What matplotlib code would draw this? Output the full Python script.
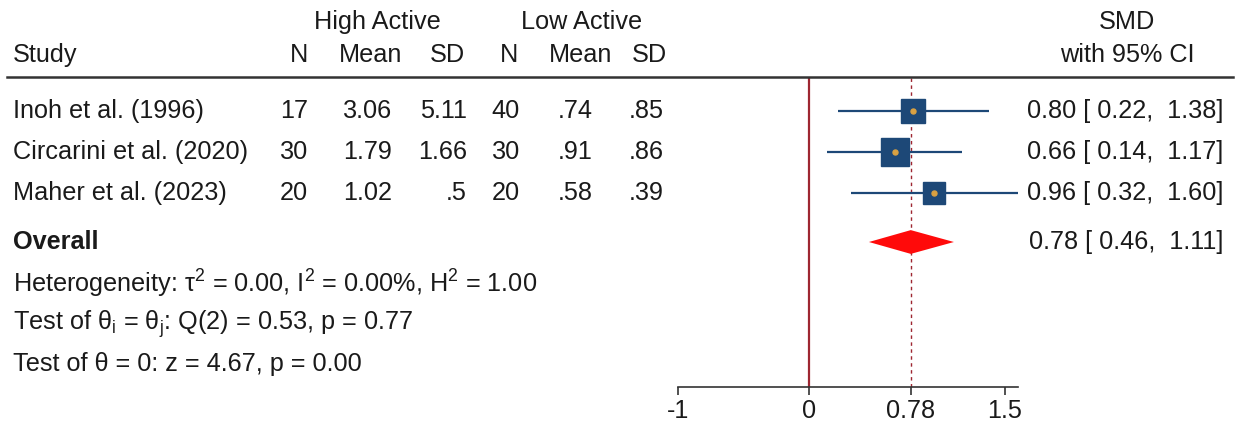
import matplotlib
matplotlib.use("Agg")
import matplotlib.pyplot as plt
import matplotlib.transforms as mtransforms
from matplotlib.lines import Line2D
import numpy as np

plt.rcParams['font.family'] = ['Liberation Sans', 'DejaVu Sans']
plt.rcParams['mathtext.fontset'] = 'custom'
plt.rcParams['mathtext.rm'] = 'Liberation Sans'
plt.rcParams['mathtext.it'] = 'Liberation Sans:italic'

# ---------------- data ----------------
studies = ["Inoh et al. (1996)", "Circarini et al. (2020)", "Maher et al. (2023)"]
high_n = ["17", "30", "20"]
high_mean = ["3.06", "1.79", "1.02"]
high_sd = ["5.11", "1.66", ".5"]
low_n = ["40", "30", "20"]
low_mean = [".74", ".91", ".58"]
low_sd = [".85", ".86", ".39"]
smd = [0.80, 0.66, 0.96]
ci_low = [0.22, 0.14, 0.32]
ci_high = [1.38, 1.17, 1.60]
weights = [32.5, 41.6, 25.9]
overall_smd = 0.78
overall_low = 0.46
overall_high = 1.11
stats_lines = [
    r"Heterogeneity: τ$^\mathregular{2}$ = 0.00, I$^\mathregular{2}$ = 0.00%, H$^\mathregular{2}$ = 1.00",
    r"Test of θ$_\mathregular{i}$ = θ$_\mathregular{j}$: Q(2) = 0.53, p = 0.77",
    r"Test of θ = 0: z = 4.67, p = 0.00",
]
xticks = [-1, 0, 0.78, 1.5]
xtick_labels = ["-1", "0", "0.78", "1.5"]
xlim = (-1, 1.6)

# ---------------- layout ----------------
W, H = 1238, 425
DPI = 100
FS = 18.2
fig = plt.figure(figsize=(W / DPI, H / DPI), dpi=DPI)
fig.patch.set_facecolor("white")

def fx(px):
    return px / W

def fy(py):
    return 1 - py / H

ax_left, ax_right = 678, 1018
ax_top, ax_bottom = 77, 387
ax = fig.add_axes([fx(ax_left), fy(ax_bottom), fx(ax_right - ax_left), (ax_bottom - ax_top) / H])
ax.set_xlim(*xlim)
row_sp = 41.0
row0 = 111.0
ax.set_ylim((ax_bottom - row0) / row_sp, (ax_top - row0) / row_sp)

study_y = [0, 1, 2]
overall_y = (242 - row0) / row_sp
stats_y = [(284 - row0) / row_sp, (324 - row0) / row_sp, (364 - row0) / row_sp]

navy = "#1d4877"
dot = "#d9a142"
maroon = "#9e2631"

# reference lines
ax.axvline(0, color=maroon, lw=1.6, zorder=1)
ax.axvline(overall_smd, color=maroon, lw=1.0, ls=(0, (2.5, 2.5)), zorder=1)

# CIs and squares
for i in range(len(studies)):
    ax.plot([ci_low[i], ci_high[i]], [study_y[i], study_y[i]], color=navy, lw=1.6, zorder=2,
            solid_capstyle="butt", clip_on=False)
    side_px = 4.3 * np.sqrt(weights[i])
    ax.plot([smd[i]], [study_y[i]], marker="s", ls="none", ms=side_px * 72 / DPI,
            mfc=navy, mec=navy, zorder=3, clip_on=False)
    ax.plot([smd[i]], [study_y[i]], marker="o", ls="none", ms=5 * 72 / DPI,
            mfc=dot, mec=dot, zorder=4, clip_on=False)

# overall diamond
dh = 0.29
ax.fill([overall_low, overall_smd, overall_high, overall_smd],
        [overall_y, overall_y - dh, overall_y, overall_y + dh],
        color="#ff0a0a", lw=0, zorder=3)

# axes styling
for s in ["left", "right", "top"]:
    ax.spines[s].set_visible(False)
ax.spines["bottom"].set_color("#333333")
ax.spines["bottom"].set_linewidth(1.2)
ax.set_yticks([])
ax.set_xticks(xticks)
ax.set_xticklabels(xtick_labels)
ax.tick_params(axis="x", direction="out", length=6, width=1.2, color="#333333",
               labelsize=FS, pad=3, labelcolor="#1a1a1a")
ax.patch.set_alpha(0)

# ---------------- table text ----------------
tr = mtransforms.blended_transform_factory(fig.transFigure, ax.transData)
tc = "#1a1a1a"

# headers
fig.text(fx(377), fy(22), "High Active", ha="center", va="center", fontsize=FS, color=tc)
fig.text(fx(582), fy(22), "Low Active", ha="center", va="center", fontsize=FS, color=tc)
fig.text(fx(1127), fy(22), "SMD", ha="center", va="center", fontsize=FS, color=tc)
fig.text(fx(13), fy(55), "Study", ha="left", va="center", fontsize=FS, color=tc)
head_labels = ["N", "Mean", "SD", "N", "Mean", "SD"]
head_x = [308, 402, 465, 518, 612, 667]
for lab, xx in zip(head_labels, head_x):
    fig.text(fx(xx), fy(55), lab, ha="right", va="center", fontsize=FS, color=tc)
fig.text(fx(1127), fy(55), "with 95% CI", ha="center", va="center", fontsize=FS, color=tc)

fig.add_artist(Line2D([fx(7), fx(1233)], [fy(77), fy(77)], color="#333333", lw=1.8))

cols = [high_n, high_mean, high_sd, low_n, low_mean, low_sd]
col_x = [308, 392, 467, 520, 593, 664]
for i, name in enumerate(studies):
    y = study_y[i]
    ax.text(fx(13), y, name, transform=tr, ha="left", va="center", fontsize=FS, color=tc, clip_on=False)
    for col, xx in zip(cols, col_x):
        ax.text(fx(xx), y, col[i], transform=tr, ha="right", va="center", fontsize=FS,
                color=tc, clip_on=False)
    ax.text(fx(1223), y, f"{smd[i]:.2f} [ {ci_low[i]:.2f},  {ci_high[i]:.2f}]", transform=tr,
            ha="right", va="center", fontsize=FS, color=tc, clip_on=False)

ax.text(fx(13), overall_y, "Overall", transform=tr, ha="left", va="center", fontsize=FS,
        fontweight="bold", color=tc, clip_on=False)
ax.text(fx(1223), overall_y, f"{overall_smd:.2f} [ {overall_low:.2f},  {overall_high:.2f}]",
        transform=tr, ha="right", va="center", fontsize=FS, color=tc, clip_on=False)

for s, y in zip(stats_lines, stats_y):
    ax.text(fx(13), y, s, transform=tr, ha="left", va="center", fontsize=FS, color=tc, clip_on=False)

fig.savefig("out.png", dpi=DPI, facecolor="white")
